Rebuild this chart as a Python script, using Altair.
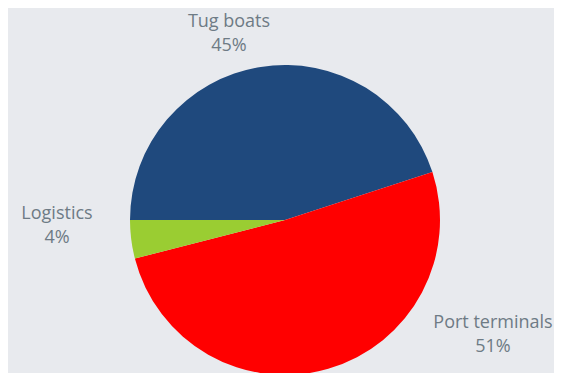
import altair as alt
import pandas as pd
import math

categories = ["Tug boats", "Port terminals", "Logistics"]
values = [45, 51, 4]
colors = ["#1F497D", "#FF0000", "#9ACD32"]

df = pd.DataFrame({"category": categories, "value": values, "order": [0, 1, 2]})

start = 1.5 * math.pi

pie = alt.Chart(df).mark_arc(radius=155).encode(
    theta=alt.Theta("value:Q", stack=True, scale=alt.Scale(range=[start, start + 2 * math.pi])),
    order=alt.Order("order:Q"),
    color=alt.Color("category:N", scale=alt.Scale(domain=categories, range=colors), legend=None),
    x=alt.value(277),
    y=alt.value(212),
)

label_pos = {"Tug boats": (221, 14), "Port terminals": (485, 315), "Logistics": (49, 206)}

layers = [pie]
for cat, (lx, ly) in label_pos.items():
    layers.append(
        alt.Chart(df).transform_filter(alt.datum.category == cat).transform_calculate(
            label="datum.category + '\\n' + datum.value + '%'"
        ).mark_text(
            font="Open Sans", fontSize=18, color="#6E7B85", lineBreak="\n", lineHeight=24,
            align="center", baseline="middle"
        ).encode(text="label:N", x=alt.value(lx), y=alt.value(ly))
    )

chart = alt.layer(*layers).properties(
    width=546, height=365, autosize=alt.AutoSizeParams(type="none"), padding=0,
    background="#E8EAEE"
).configure_view(stroke=None)

chart.save("out.html", embed_options={"renderer": "svg", "actions": False})
